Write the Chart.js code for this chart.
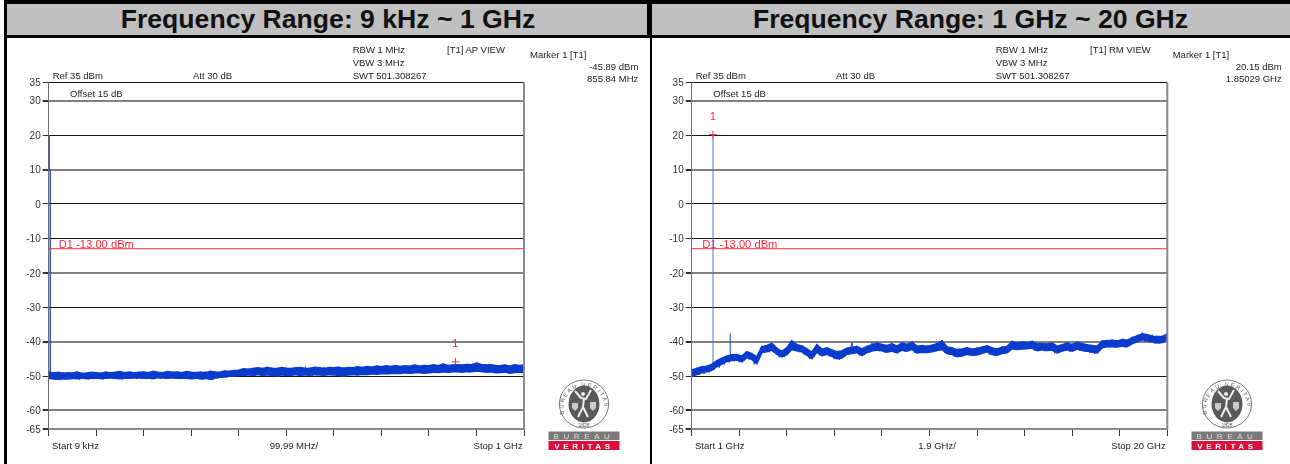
<!DOCTYPE html>
<html>
<head>
<meta charset="utf-8">
<script src="https://cdn.jsdelivr.net/npm/chart.js@4"></script>
<style>
  html, body { margin: 0; padding: 0; background: #fff; }
  #page { position: relative; width: 1290px; height: 464px; overflow: hidden; font-family: "Liberation Sans", Arial, sans-serif; }
  .bar { position: absolute; background: #000; }
  .head { position: absolute; top: 4px; height: 31px; background: #c0c0c0; }
  .title { position: absolute; top: 4px; height: 31px; line-height: 31px; font-size: 26.6px; font-weight: bold; color: #111; white-space: nowrap; transform: translateX(-50%); }
  .cap { position: absolute; font-size: 9.5px; line-height: 12px; color: #222; white-space: nowrap; transform: translateY(-50%); }
  canvas { position: absolute; top: 38px; }
  svg { position: absolute; }
</style>
</head>
<body>
<div id="page">
  <div class="bar" style="left:4px;top:0;width:1286px;height:4px"></div>
  <div class="bar" style="left:4px;top:0;width:3px;height:464px"></div>
  <div class="head" style="left:7px;width:640px"></div>
  <div class="head" style="left:652px;width:638px"></div>
  <div class="bar" style="left:647px;top:0;width:5px;height:38px"></div>
  <div class="bar" style="left:650px;top:38px;width:2px;height:426px"></div>
  <div class="bar" style="left:4px;top:35px;width:1286px;height:3px"></div>
  <canvas id="chartLow" width="640" height="426" style="left:7px"></canvas>
  <canvas id="chartHigh" width="638" height="426" style="left:652px"></canvas>
</div>
<script>
const yTickValues = [35.3, 30, 20, 10, 0, -10, -20, -30, -40, -50, -60, -65.4];
const heavyLines = [30, 10, -20, -40, -60, -65.4];
const limitLine = -13;

// 9 kHz ~ 1 GHz
const lowTicks = [0.009, 100, 200, 300, 400, 500, 600, 700, 800, 900, 1000];
const lowFreq = [0,10,20,30,40,50,60,70,80,90,
  100,110,120,130,140,150,160,170,180,190,
  200,210,220,230,240,250,260,270,280,290,
  300,310,320,330,340,350,360,370,380,390,
  400,410,420,430,440,450,460,470,480,490,
  500,510,520,530,540,550,560,570,580,590,
  600,610,620,630,640,650,660,670,680,690,
  700,710,720,730,740,750,760,770,780,790,
  800,810,820,830,840,850,860,870,880,890,
  900,910,920,930,940,950,960,970,980,990,1000];
const lowHigh = [-48.9,-49.2,-49.0,-49.3,-49.1,-49.2,-48.9,-49.3,-49.2,-49.0,
  -49.1,-49.3,-48.9,-49.2,-49.0,-48.8,-49.1,-48.9,-49.2,-49.0,
  -48.9,-49.1,-48.7,-49.0,-49.1,-48.8,-49.0,-48.9,-49.1,-48.8,
  -49.0,-49.1,-48.9,-49.1,-48.7,-48.9,-49.0,-48.6,-48.7,-48.5,
  -48.4,-48.0,-48.1,-47.9,-47.7,-47.9,-47.6,-47.8,-47.9,-47.6,
  -47.8,-47.9,-47.7,-47.6,-47.9,-47.8,-47.5,-47.7,-47.9,-47.6,
  -47.7,-47.5,-47.8,-47.6,-47.7,-47.4,-47.6,-47.3,-47.5,-47.2,
  -47.4,-47.1,-47.3,-47.0,-47.3,-47.1,-47.2,-46.9,-47.2,-47.0,
  -47.1,-46.8,-47.1,-46.6,-47.0,-46.9,-46.8,-46.9,-46.7,-46.8,
  -46.3,-46.7,-46.9,-46.8,-47.0,-47.1,-46.9,-47.2,-46.8,-47.0,-46.9];
const lowLow = [-50.6,-50.8,-50.9,-50.7,-50.8,-50.6,-50.7,-50.5,-50.7,-50.6,
  -50.5,-50.7,-50.6,-50.4,-50.6,-50.7,-50.5,-50.6,-50.4,-50.5,
  -50.6,-50.5,-50.7,-50.4,-50.5,-50.6,-50.4,-50.6,-50.5,-50.6,
  -50.7,-50.5,-50.8,-50.6,-50.9,-50.5,-50.3,-50.2,-50.0,-49.9,
  -49.7,-49.8,-49.6,-49.7,-49.5,-49.8,-49.6,-49.7,-49.9,-49.6,
  -49.8,-49.7,-49.5,-49.8,-49.6,-49.7,-49.5,-49.6,-49.7,-49.5,
  -49.6,-49.7,-50.0,-49.6,-49.5,-49.6,-49.4,-49.5,-49.3,-49.4,
  -49.2,-49.3,-49.2,-49.1,-49.2,-49.0,-49.1,-49.0,-48.9,-49.1,
  -49.0,-48.8,-48.9,-48.7,-48.8,-48.7,-48.6,-48.8,-48.6,-48.7,
  -48.5,-48.6,-48.8,-48.7,-49.0,-48.9,-48.8,-49.1,-48.9,-48.8,-49.0];
// peaks and dips of the noise, every other sample up then down
const lowNoiseFreq = [0,5,10,15,20,25,30,35,40,45,50,55,60,65,70,75,80,85,90,95,
  100,105,110,115,120,125,130,135,140,145,150,155,160,165,170,175,180,185,190,195,
  200,205,210,215,220,225,230,235,240,245,250,255,260,265,270,275,280,285,290,295,
  300,305,310,315,320,325,330,335,340,345,350,355,360,365,370,375,380,385,390,395,
  400,405,410,415,420,425,430,435,440,445,450,455,460,465,470,475,480,485,490,495,
  500,505,510,515,520,525,530,535,540,545,550,555,560,565,570,575,580,585,590,595,
  600,605,610,615,620,625,630,635,640,645,650,655,660,665,670,675,680,685,690,695,
  700,705,710,715,720,725,730,735,740,745,750,755,760,765,770,775,780,785,790,795,
  800,805,810,815,820,825,830,835,840,845,850,855,860,865,870,875,880,885,890,895,
  900,905,910,915,920,925,930,935,940,945,950,955,960,965,970,975,980,985,990,995,1000];
const lowNoise = [-49.0,-50.9,-48.8,-51.0,-49.1,-51.2,-48.9,-50.8,-49.1,-51.0,-49.0,-50.9,-48.7,-51.1,-49.2,-50.8,-49.0,-51.0,-48.9,-50.9,
  -49.1,-50.8,-48.9,-51.0,-49.0,-50.7,-48.8,-50.9,-49.1,-50.8,-48.6,-51.0,-49.0,-50.8,-48.8,-50.7,-49.0,-50.9,-48.9,-50.8,
  -48.7,-50.9,-49.0,-50.7,-48.6,-50.8,-48.9,-50.9,-49.0,-50.7,-48.7,-50.8,-48.9,-50.7,-48.8,-50.9,-49.0,-50.8,-48.7,-50.9,
  -48.9,-51.0,-48.8,-50.8,-49.0,-51.1,-48.6,-50.9,-48.9,-51.2,-48.7,-50.8,-48.8,-50.6,-48.5,-50.4,-48.6,-50.2,-48.3,-50.1,
  -48.2,-50.0,-47.8,-49.9,-47.9,-49.8,-47.6,-50.0,-47.4,-49.7,-47.7,-49.9,-47.3,-49.8,-47.6,-49.7,-47.7,-50.1,-47.4,-49.8,
  -47.6,-49.9,-47.7,-49.7,-47.4,-49.9,-47.7,-49.8,-47.3,-49.7,-47.6,-49.9,-47.5,-49.8,-47.7,-50.0,-47.4,-49.7,-47.6,-49.8,
  -47.5,-49.8,-47.3,-49.9,-47.6,-50.2,-47.4,-49.7,-47.5,-49.6,-47.2,-49.7,-47.4,-49.6,-47.1,-49.7,-47.3,-49.5,-47.0,-49.6,
  -47.2,-49.4,-46.9,-49.5,-47.1,-49.3,-46.8,-49.4,-47.1,-49.2,-46.9,-49.3,-47.0,-49.2,-46.7,-49.1,-47.0,-49.3,-46.8,-49.2,
  -46.9,-49.2,-46.6,-49.0,-46.9,-49.1,-46.3,-48.9,-46.8,-49.0,-46.7,-48.8,-46.6,-49.0,-46.7,-48.8,-46.5,-48.9,-46.6,-48.8,
  -46.1,-48.7,-46.5,-48.8,-46.7,-49.0,-46.6,-48.9,-46.8,-49.2,-46.9,-49.1,-46.7,-49.0,-47.0,-49.2,-46.6,-49.1,-46.8,-49.0,-46.9];
const lowSpikeFreq = [3.2, 3.2];
const lowSpikeLevel = [-49.5, 10];
const lowTopSpikeFreq = [0.9, 0.9];
const lowTopSpikeLevel = [10, 20];
const lowMarker = [855.84, -45.89];

// 1 GHz ~ 20 GHz
const highTicks = [1, 2.9, 4.8, 6.7, 8.6, 10.5, 12.4, 14.3, 16.2, 18.1, 20];
const highFreq = [1,1.2,1.4,1.6,1.8,2,2.2,2.4,2.6,2.8,
  3,3.2,3.4,3.6,3.8,4,4.2,4.4,4.6,4.8,
  5,5.2,5.4,5.6,5.8,6,6.2,6.4,6.6,6.8,
  7,7.2,7.4,7.6,7.8,8,8.2,8.4,8.6,8.8,
  9,9.2,9.4,9.6,9.8,10,10.2,10.4,10.6,10.8,
  11,11.2,11.4,11.6,11.8,12,12.2,12.4,12.6,12.8,
  13,13.2,13.4,13.6,13.8,14,14.2,14.4,14.6,14.8,
  15,15.2,15.4,15.6,15.8,16,16.2,16.4,16.6,16.8,
  17,17.2,17.4,17.6,17.8,18,18.2,18.4,18.6,18.8,
  19,19.2,19.4,19.6,19.8,20];
const highHigh = [-48.3,-47.9,-47.4,-47.2,-46.7,-45.7,-44.9,-44.3,-43.9,-43.8,
  -44.3,-43.0,-43.6,-44.5,-41.6,-41.2,-40.6,-42.0,-42.9,-41.9,
  -39.9,-41.0,-41.3,-42.2,-43.2,-41.0,-42.3,-41.9,-42.5,-43.0,
  -42.8,-42.0,-41.7,-41.5,-42.2,-41.5,-41.0,-40.5,-40.9,-41.2,
  -40.7,-41.4,-40.5,-40.9,-40.3,-41.4,-41.2,-41.4,-41.1,-40.7,
  -39.9,-41.6,-41.9,-42.4,-42.2,-41.9,-42.3,-42.0,-41.7,-41.3,
  -41.9,-42.2,-41.7,-41.5,-40.0,-40.5,-40.2,-40.4,-40.0,-40.8,
  -40.6,-40.8,-40.5,-41.4,-41.0,-40.5,-40.9,-40.3,-40.7,-41.0,
  -41.2,-41.4,-39.9,-39.8,-39.7,-39.9,-39.5,-39.7,-38.9,-38.4,
  -37.8,-38.1,-38.5,-38.6,-38.6,-37.8];
const highLow = [-50.0,-49.5,-49.0,-48.7,-48.3,-47.2,-46.5,-45.7,-45.4,-45.3,
  -45.8,-44.6,-45.1,-46.3,-43.1,-42.9,-42.4,-43.6,-44.4,-43.7,
  -42.2,-42.6,-42.9,-43.9,-44.9,-43.0,-44.0,-43.6,-44.2,-44.9,
  -44.7,-43.6,-43.4,-43.1,-44.0,-43.1,-42.7,-42.4,-42.6,-43.0,
  -42.7,-43.2,-42.4,-42.7,-42.2,-43.2,-43.0,-43.1,-42.9,-42.5,
  -42.2,-43.4,-43.7,-44.3,-44.1,-43.6,-43.9,-43.8,-43.3,-42.9,
  -43.7,-43.9,-43.4,-43.2,-42.0,-42.2,-42.1,-42.0,-41.8,-42.6,
  -42.3,-42.5,-42.4,-43.2,-42.7,-42.3,-42.7,-42.1,-42.5,-42.7,
  -43.0,-43.2,-41.7,-41.4,-41.4,-41.5,-41.2,-41.4,-40.5,-40.0,
  -39.4,-39.7,-40.0,-40.3,-40.2,-39.2];
const highNoiseFreq = [1,1.1,1.2,1.3,1.4,1.5,1.6,1.7,1.8,1.9,2,2.1,2.2,2.3,2.4,2.5,2.6,2.7,2.8,2.9,
  3,3.1,3.2,3.3,3.4,3.5,3.6,3.7,3.8,3.9,4,4.1,4.2,4.3,4.4,4.5,4.6,4.7,4.8,4.9,
  5,5.1,5.2,5.3,5.4,5.5,5.6,5.7,5.8,5.9,6,6.1,6.2,6.3,6.4,6.5,6.6,6.7,6.8,6.9,
  7,7.1,7.2,7.3,7.4,7.5,7.6,7.7,7.8,7.9,8,8.1,8.2,8.3,8.4,8.5,8.6,8.7,8.8,8.9,
  9,9.1,9.2,9.3,9.4,9.5,9.6,9.7,9.8,9.9,10,10.1,10.2,10.3,10.4,10.5,10.6,10.7,10.8,10.9,
  11,11.1,11.2,11.3,11.4,11.5,11.6,11.7,11.8,11.9,12,12.1,12.2,12.3,12.4,12.5,12.6,12.7,12.8,12.9,
  13,13.1,13.2,13.3,13.4,13.5,13.6,13.7,13.8,13.9,14,14.1,14.2,14.3,14.4,14.5,14.6,14.7,14.8,14.9,
  15,15.1,15.2,15.3,15.4,15.5,15.6,15.7,15.8,15.9,16,16.1,16.2,16.3,16.4,16.5,16.6,16.7,16.8,16.9,
  17,17.1,17.2,17.3,17.4,17.5,17.6,17.7,17.8,17.9,18,18.1,18.2,18.3,18.4,18.5,18.6,18.7,18.8,18.9,
  19,19.1,19.2,19.3,19.4,19.5,19.6,19.7,19.8,19.9,20];
const highNoise = [-48.2,-50.2,-47.6,-49.7,-47.2,-49.3,-47.0,-49.0,-46.6,-48.2,-45.4,-47.6,-44.8,-46.7,-44.0,-46.1,-43.7,-45.7,-43.6,-46.0,
  -44.0,-45.4,-42.9,-45.3,-43.4,-46.6,-44.6,-45.0,-41.2,-43.2,-41.0,-43.1,-40.4,-43.0,-41.7,-44.6,-42.6,-44.5,-41.6,-42.9,
  -39.7,-42.6,-40.6,-43.1,-41.1,-43.9,-42.0,-45.0,-43.1,-44.3,-40.7,-44.0,-42.0,-44.0,-41.7,-44.3,-42.2,-45.1,-42.7,-45.3,
  -42.7,-44.4,-41.8,-43.7,-40.2,-43.5,-41.2,-44.0,-42.0,-43.9,-41.2,-43.2,-40.3,-42.7,-40.2,-42.8,-40.6,-43.2,-41.0,-42.9,
  -40.5,-43.2,-41.2,-42.9,-40.2,-43.0,-40.6,-42.6,-40.0,-43.3,-41.2,-43.3,-41.0,-43.3,-41.2,-43.0,-40.9,-42.7,-40.4,-42.4,
  -39.6,-43.2,-41.3,-43.9,-41.6,-44.4,-42.1,-44.3,-42.0,-43.9,-41.7,-44.1,-42.0,-43.9,-41.7,-43.5,-41.4,-43.2,-41.0,-43.8,
  -41.6,-44.2,-41.9,-43.7,-41.4,-43.3,-41.2,-42.2,-39.8,-42.4,-40.3,-42.3,-40.0,-42.1,-40.1,-42.0,-39.8,-42.7,-40.6,-42.5,
  -40.3,-42.8,-40.6,-42.7,-40.4,-43.4,-41.2,-43.0,-40.7,-42.5,-40.2,-43.0,-40.7,-42.4,-40.1,-42.7,-40.5,-43.0,-40.8,-43.3,
  -41.0,-43.6,-41.2,-42.0,-39.7,-41.7,-39.5,-41.7,-39.4,-41.8,-39.6,-41.5,-39.2,-41.7,-39.4,-40.8,-38.6,-40.3,-38.0,-39.7,
  -37.4,-40.0,-37.8,-40.3,-38.0,-40.6,-38.3,-40.5,-38.3,-39.6,-37.6];
const highSpikeFreq = [1.85029, 1.85029];
const highSpikeLevel = [-46.5, 20.15];
const secondSpikeFreq = [2.54, 2.54];
const secondSpikeLevel = [-45, -37.6];
const highMarker = [1.85029, 20.15];

const traceColor = "#0a3bcc";
const redColor = "#ff2a3c";
const page = document.getElementById("page");

function toPoints(xs, ys) {
  return xs.map((x, i) => ({ x: x, y: ys[i] }));
}

function lineSet(xs, ys, color, extra) {
  return Object.assign({
    data: toPoints(xs, ys),
    showLine: true,
    borderColor: color,
    borderWidth: 1,
    pointRadius: 0,
    tension: 0,
    fill: false,
  }, extra);
}

const markupPlugin = {
  id: "markup",
  afterDatasetsDraw(chart, args, opts) {
    const { ctx, chartArea, scales } = chart;
    ctx.save();
    ctx.strokeStyle = "#8a8a8a";
    ctx.lineWidth = 2;
    ctx.beginPath();
    ctx.moveTo(chartArea.right, chartArea.top);
    ctx.lineTo(chartArea.right, chartArea.bottom);
    ctx.stroke();
    ctx.fillStyle = redColor;
    ctx.font = '11.2px "Liberation Sans", Arial, sans-serif';
    ctx.textAlign = "left";
    ctx.textBaseline = "middle";
    ctx.fillText("D1 -13.00 dBm", chartArea.left + opts.limitInset, scales.y.getPixelForValue(limitLine) - 4);
    ctx.textAlign = "center";
    ctx.fillText("1", scales.x.getPixelForValue(opts.marker[0]), scales.y.getPixelForValue(opts.marker[1]) - 18);
    ctx.restore();
  },
};

function makeChart(id, cfg) {
  return new Chart(document.getElementById(id).getContext("2d"), {
    type: "scatter",
    data: { datasets: cfg.datasets },
    plugins: [markupPlugin],
    options: {
      responsive: false,
      animation: false,
      layout: { padding: { left: 0, right: cfg.padRight, top: 44.5, bottom: 0 } },
      plugins: {
        legend: { display: false },
        tooltip: { enabled: false },
        markup: { marker: cfg.marker, limitInset: cfg.limitInset },
      },
      scales: {
        x: {
          type: "linear",
          min: cfg.xMin,
          max: cfg.xMax,
          afterBuildTicks: (axis) => { axis.ticks = cfg.xTicks.map((v) => ({ value: v })); },
          afterFit: (axis) => { axis.height = 35; },
          border: { color: "#8a8a8a", width: 2 },
          grid: { drawOnChartArea: false, color: "#333", tickLength: 7, tickWidth: 1 },
          ticks: { callback: () => "", autoSkip: false, maxRotation: 0 },
        },
        y: {
          min: -65.4,
          max: 35.3,
          afterBuildTicks: (axis) => { axis.ticks = yTickValues.map((v) => ({ value: v })); },
          afterFit: (axis) => { axis.width = cfg.axisWidth; },
          border: { color: "#6e6e6e", width: 1 },
          grid: {
            color: (c) => heavyLines.includes(c.tick.value) ? "#808080" : "#161616",
            lineWidth: (c) => heavyLines.includes(c.tick.value) ? 2 : 1,
            tickColor: "#333",
            tickLength: 6,
          },
          ticks: {
            callback: (v) => String(Math.round(v)),
            autoSkip: false,
            padding: 2,
            labelOffset: 1,
            color: "#333",
            font: { family: '"Liberation Sans", Arial, sans-serif', size: 10 },
          },
        },
      },
    },
  });
}

makeChart("chartLow", {
  xMin: 0.009, xMax: 1000, xTicks: lowTicks, axisWidth: 41.7, padRight: 123,
  marker: lowMarker, limitInset: 10,
  datasets: [
    lineSet([0.009, 1000], [limitLine, limitLine], redColor),
    lineSet(lowFreq, lowHigh, traceColor, { fill: "+1", backgroundColor: traceColor, borderWidth: 2 }),
    lineSet(lowFreq, lowLow, traceColor, { borderWidth: 2 }),
    lineSet(lowNoiseFreq, lowNoise, "#1a4ad6"),
    lineSet(lowSpikeFreq, lowSpikeLevel, "#1f47c8", { borderWidth: 1.4 }),
    lineSet(lowTopSpikeFreq, lowTopSpikeLevel, "#123a9c", { borderWidth: 1.4 }),
    { data: [{ x: lowMarker[0], y: lowMarker[1] }], pointStyle: "cross", pointRadius: 4, borderColor: redColor, borderWidth: 1 },
  ],
});

makeChart("chartHigh", {
  xMin: 1, xMax: 20, xTicks: highTicks, axisWidth: 39.7, padRight: 122.7,
  marker: highMarker, limitInset: 10.5,
  datasets: [
    lineSet([1, 20], [limitLine, limitLine], redColor),
    lineSet(highFreq, highHigh, traceColor, { fill: "+1", backgroundColor: traceColor, borderWidth: 2 }),
    lineSet(highFreq, highLow, traceColor, { borderWidth: 2 }),
    lineSet(highNoiseFreq, highNoise, "#1a4ad6"),
    lineSet(highSpikeFreq, highSpikeLevel, "#4f76d6"),
    lineSet(secondSpikeFreq, secondSpikeLevel, "#1a48cc"),
    { data: [{ x: highMarker[0], y: highMarker[1] }], pointStyle: "cross", pointRadius: 4, borderColor: redColor, borderWidth: 1 },
  ],
});

function cap(text, x, y, rightAlign) {
  const el = document.createElement("div");
  el.className = "cap";
  el.textContent = text;
  el.style.top = y + "px";
  if (rightAlign) el.style.right = (1290 - x) + "px";
  else el.style.left = x + "px";
  page.appendChild(el);
}

function title(text, cx) {
  const el = document.createElement("div");
  el.className = "title";
  el.textContent = text;
  el.style.left = cx + "px";
  page.appendChild(el);
}

function logo(x) {
  const svg = `<svg style="left:${x}px;top:378px" width="74" height="74" viewBox="0 0 74 74" xmlns="http://www.w3.org/2000/svg">
    <defs><path id="arc${x}" d="M16.5 37 A20.6 21.6 0 1 1 55.5 37"/></defs>
    <ellipse cx="36" cy="26" rx="24.6" ry="24" fill="#fff" stroke="#777" stroke-width="1"/>
    <ellipse cx="36" cy="26" rx="15.5" ry="18.5" fill="#5a5a5a"/>
    <path d="M27 13 L33 20 L38 21 L43 12 M36 21 L35 29 L30 39 M35 29 L40 39" fill="none" stroke="#eee" stroke-width="2"/>
    <circle cx="35" cy="16" r="2" fill="#eee"/>
    <path d="M24 25 h6 v5 l-3 3 l-3 -3 z M42 24 h6 v6 l-3 3 l-3 -3 z" fill="#ccc"/>
    <text font-size="5.6" fill="#5a5a5a" font-family="Liberation Sans" letter-spacing="1.7"><textPath href="#arc${x}" startOffset="1">BUREAU VERITAS</textPath></text>
    <text x="36" y="49" font-size="5" fill="#555" text-anchor="middle" font-family="Liberation Sans">1828</text>
    <rect x="0.5" y="53.5" width="71" height="8.5" fill="#7a7a7a"/>
    <rect x="0.5" y="63" width="71" height="9" fill="#d8103c"/>
    <text x="36" y="61" font-size="8" fill="#ddd" text-anchor="middle" letter-spacing="4.6" font-family="Liberation Sans">BUREAU</text>
    <text x="36" y="70.6" font-size="8" font-weight="bold" fill="#fff" text-anchor="middle" letter-spacing="3.6" font-family="Liberation Sans">VERITAS</text>
  </svg>`;
  page.insertAdjacentHTML("beforeend", svg);
}

title("Frequency Range: 9 kHz ~ 1 GHz", 328);
title("Frequency Range: 1 GHz ~ 20 GHz", 970.5);

cap("Ref 35 dBm", 52.7, 76);
cap("Att  30 dB", 193, 76);
cap("Offset 15 dB", 70, 94);
cap("RBW 1 MHz", 352.7, 49.5);
cap("VBW 3 MHz", 352.7, 63);
cap("SWT 501.308267", 352.7, 75.5);
cap("[T1] AP VIEW", 447, 49.5);
cap("Marker 1 [T1]", 530, 55);
cap("-45.89 dBm", 638.3, 66.7, true);
cap("855.84 MHz", 638.3, 79, true);
cap("Start 9 kHz", 52, 446);
cap("99.99 MHz/", 269.7, 446);
cap("Stop 1 GHz", 522.7, 446, true);

cap("Ref 35 dBm", 695.7, 76);
cap("Att  30 dB", 836, 76);
cap("Offset 15 dB", 713.3, 94);
cap("RBW 1 MHz", 995.7, 49.5);
cap("VBW 3 MHz", 995.7, 63);
cap("SWT 501.308267", 995.7, 75.5);
cap("[T1] RM VIEW", 1090, 49.5);
cap("Marker 1 [T1]", 1172.7, 55);
cap("20.15 dBm", 1281.7, 66.7, true);
cap("1.85029 GHz", 1281.7, 79, true);
cap("Start 1 GHz", 695, 446);
cap("1.9 GHz/", 918.3, 446);
cap("Stop 20 GHz", 1165.7, 446, true);

logo(548);
logo(1191);
</script>
</body>
</html>
